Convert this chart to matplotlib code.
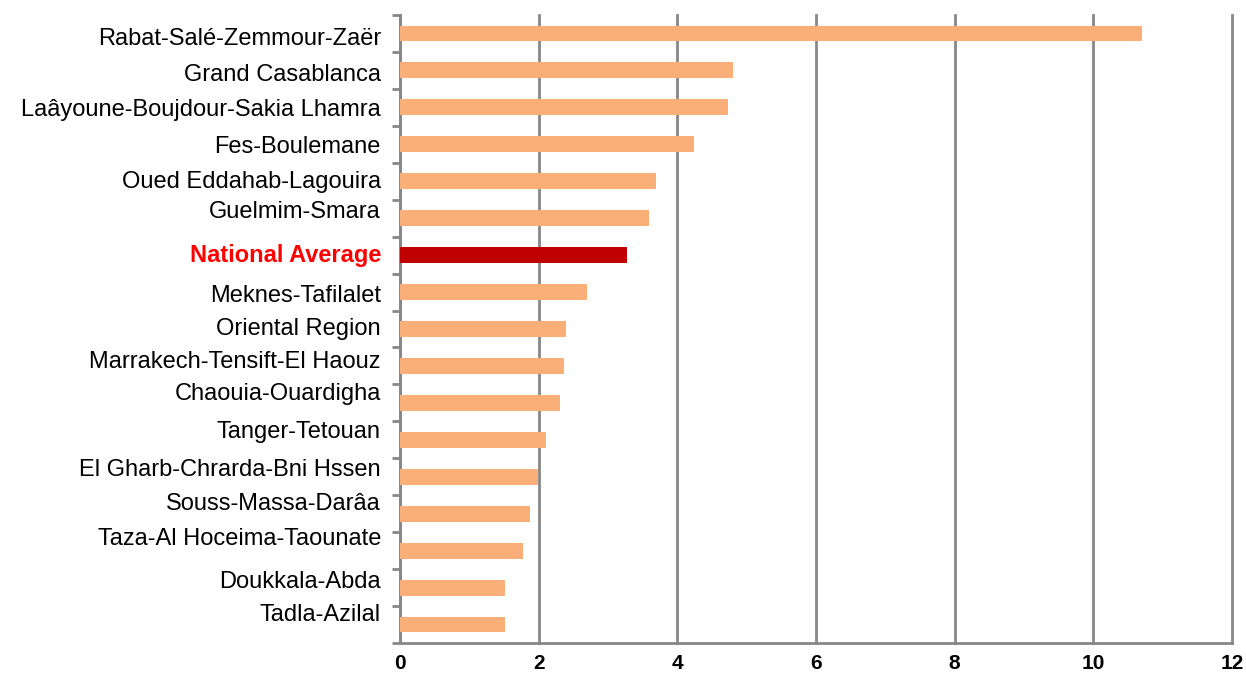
import numpy as np
import matplotlib.pyplot as plt
from matplotlib.transforms import blended_transform_factory, ScaledTranslation

# регионы сверху вниз
regions = ['Rabat-Salé-Zemmour-Zaër', 'Grand Casablanca', 'Laâyoune-Boujdour-Sakia Lhamra',
           'Fes-Boulemane', 'Oued Eddahab-Lagouira', 'Guelmim-Smara', 'National Average',
           'Meknes-Tafilalet', 'Oriental Region', 'Marrakech-Tensift-El Haouz',
           'Chaouia-Ouardigha', 'Tanger-Tetouan', 'El Gharb-Chrarda-Bni Hssen',
           'Souss-Massa-Darâa', 'Taza-Al Hoceima-Taounate', 'Doukkala-Abda', 'Tadla-Azilal']
values = [10.70, 4.80, 4.73, 4.24, 3.69, 3.59, 3.27, 2.70, 2.39, 2.37, 2.31, 2.11,
          1.99, 1.88, 1.77, 1.51, 1.51]
highlight = 'National Average'

# сдвиг базовой линии подписи относительно центра полосы, px (вниз +)
label_dy = [11.5, 10.6, 8.4, 8.5, 7, -0.3, 6.9, 10, 6.4, 1.8, -2.4, -2, -1.2, -4, -5.7, 0.3, -3.3]

plt.rcParams['font.family'] = ['Liberation Sans', 'DejaVu Sans']

fig = plt.figure(figsize=(12.46, 6.73), dpi=100)
ax = fig.add_axes([0.321, 0.0446, 0.6678, 0.9331])

n = len(regions)
y = np.arange(n)
colors = ['#C00000' if r == highlight else '#FAAF78' for r in regions]
ax.barh(y, values, height=0.43, color=colors, zorder=3)

ax.set_ylim(n - 0.5, -0.5)
ax.set_xlim(0, 12)
ax.set_xticks(np.arange(0, 13, 2))
ax.xaxis.grid(True, color='#878787', linewidth=2, zorder=0)
for gl in ax.get_xgridlines():
    gl.set_clip_on(False)
ax.tick_params(axis='x', length=0, pad=8, labelsize=15)
for t in ax.get_xticklabels():
    t.set_fontweight('bold')

# засечки по границам категорий, подписи - отдельным текстом
ax.set_yticks([])
ax.set_yticks(np.arange(-0.5, n + 0.5, 1), minor=True)
ax.tick_params(axis='y', which='minor', length=6, width=2, color='#878787', direction='out')

base = blended_transform_factory(ax.transAxes, ax.transData)
for i in range(n):
    tr = base + ScaledTranslation(-19 / 100, -label_dy[i] / 100, fig.dpi_scale_trans)
    if regions[i] == highlight:
        ax.text(0, y[i], regions[i], transform=tr, ha='right', va='baseline',
                fontsize=17, color='red', fontweight='bold')
    else:
        ax.text(0, y[i], regions[i], transform=tr, ha='right', va='baseline',
                fontsize=17, color='black')

for s in ['top', 'right']:
    ax.spines[s].set_visible(False)
for s in ['left', 'bottom']:
    ax.spines[s].set_color('#878787')
    ax.spines[s].set_linewidth(2)

fig.savefig('out.png', dpi=100)
